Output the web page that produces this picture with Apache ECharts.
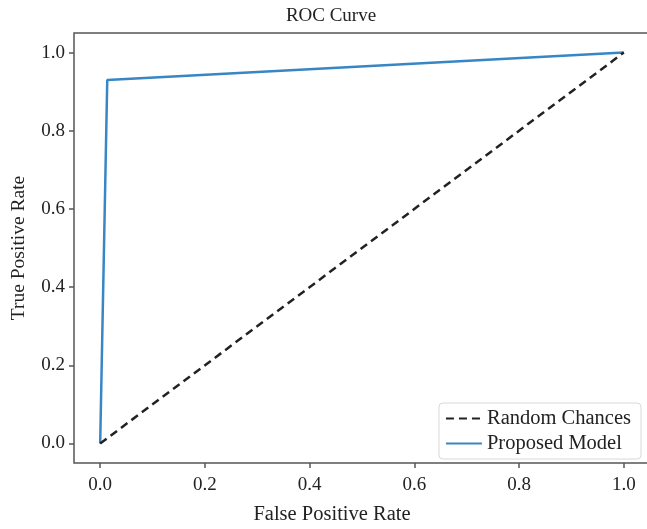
<!DOCTYPE html>
<html>
<head>
<meta charset="utf-8">
<script src="https://cdn.jsdelivr.net/npm/echarts@6/dist/echarts.min.js"></script>
<style>
  html, body { margin: 0; padding: 0; background: #fff; }
  #chart { width: 647px; height: 529px; }
</style>
</head>
<body>
<div id="chart"></div>
<script>
// ROC curve data
const chanceFpr = [0, 1];
const chanceTpr = [0, 1];
const modelFpr = [0, 0.0135, 1];
const modelTpr = [0, 0.93, 1];
const tickValues = [0, 0.2, 0.4, 0.6, 0.8, 1.0];

const serif = '"Liberation Serif", "Times New Roman", serif';
const spine = '#555555';

const chart = echarts.init(document.getElementById('chart'));

const axisCommon = {
  type: 'value',
  min: -0.05,
  max: 1.05,
  axisLine: { show: false, onZero: false },
  splitLine: { show: false },
  axisTick: {
    show: true,
    customValues: tickValues,
    length: 5,
    inside: false,
    lineStyle: { color: spine, width: 1.5 }
  },
  axisLabel: {
    customValues: tickValues,
    formatter: v => v.toFixed(1),
    fontFamily: serif,
    fontSize: 19,
    color: '#222',
    margin: 9
  }
};

chart.setOption({
  animation: false,
  backgroundColor: '#fff',
  title: {
    text: 'ROC Curve',
    left: 326,
    top: 2,
    textAlign: 'center',
    textStyle: { fontFamily: serif, fontSize: 19, fontWeight: 'normal', color: '#222' }
  },
  grid: {
    left: 74,
    top: 33,
    right: -3,
    bottom: 66,
    outerBoundsMode: 'none',
    containLabel: false,
    show: true,
    borderColor: spine,
    borderWidth: 1.5,
    backgroundColor: '#fff'
  },
  xAxis: Object.assign({}, axisCommon, {
    axisLabel: Object.assign({}, axisCommon.axisLabel, { margin: 13 }),
    name: 'False Positive Rate',
    nameLocation: 'middle',
    nameGap: 41,
    nameTextStyle: { fontFamily: serif, fontSize: 20.5, color: '#222', padding: [0, 60, 0, 0] }
  }),
  yAxis: Object.assign({}, axisCommon, {
    name: 'True Positive Rate',
    nameLocation: 'middle',
    nameGap: 45,
    nameTextStyle: { fontFamily: serif, fontSize: 19.5, color: '#222' }
  }),
  legend: {
    right: 6,
    top: 403,
    orient: 'vertical',
    itemWidth: 36,
    itemHeight: 12,
    itemGap: 4,
    padding: [5, 10, 5, 6],
    backgroundColor: '#fff',
    borderColor: '#d8d8d8',
    borderWidth: 1,
    borderRadius: 4,
    itemStyle: { opacity: 0 },
    textStyle: { fontFamily: serif, fontSize: 20.5, color: '#222' },
    data: ['Random Chances', 'Proposed Model']
  },
  series: [
    {
      name: 'Random Chances',
      type: 'line',
      symbol: 'none',
      data: chanceFpr.map((x, i) => [x, chanceTpr[i]]),
      lineStyle: { color: '#222', width: 2.5, type: [8, 5] },
      itemStyle: { color: '#222' },
      z: 3
    },
    {
      name: 'Proposed Model',
      type: 'line',
      symbol: 'none',
      data: modelFpr.map((x, i) => [x, modelTpr[i]]),
      lineStyle: { color: '#3886c4', width: 2.5 },
      itemStyle: { color: '#3886c4' },
      z: 2
    }
  ]
});
</script>
</body>
</html>
